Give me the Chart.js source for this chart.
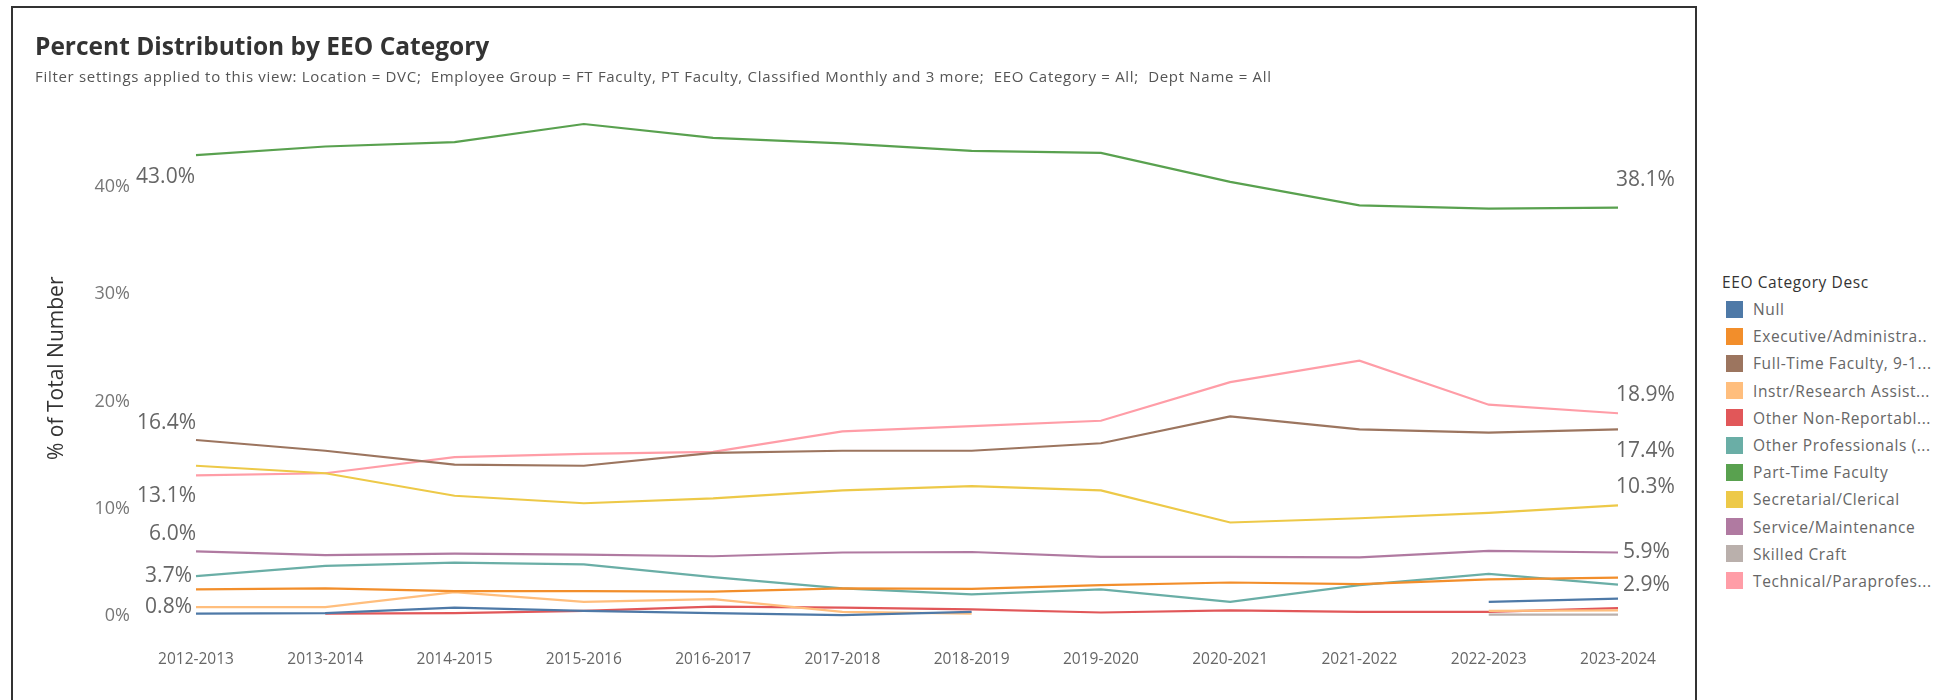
<!DOCTYPE html>
<html>
<head>
<meta charset="utf-8">
<script src="https://cdn.jsdelivr.net/npm/chart.js@4.4.1/dist/chart.umd.min.js"></script>
<style>
  html, body { margin: 0; background: #fff; font-family: "Open Sans", sans-serif; overflow: hidden; }
  #box { position: absolute; left: 11px; top: 6px; width: 1682px; height: 694px; border: 2px solid #333; border-bottom: none; }
  #chart { position: absolute; left: 0; top: 0; }
  #title { position: absolute; left: 22px; top: 23px; font-size: 24.5px; line-height: 30px; font-weight: bold; color: #333; white-space: nowrap; }
  #subtitle { position: absolute; left: 22px; top: 59px; font-size: 15px; letter-spacing: 0.7px; line-height: 18px; color: #555; white-space: nowrap; }
  #legend { position: absolute; left: 1722px; top: 270.5px; font-size: 15.5px; letter-spacing: 0.6px; color: #666; }
  #legend .head { color: #333; height: 22px; line-height: 22px; margin-bottom: 3px; }
  #legend .row { height: 27.2px; display: flex; align-items: center; white-space: nowrap; }
  #legend .sw { width: 17px; height: 17px; margin: 0 10px 0 4px; }
</style>
</head>
<body>
<div id="box">
  <canvas id="chart" width="1682" height="692"></canvas>
  <div id="title">Percent Distribution by EEO Category</div>
  <div id="subtitle">Filter settings applied to this view: Location = DVC;&nbsp; Employee Group = FT Faculty, PT Faculty, Classified Monthly and 3 more;&nbsp; EEO Category = All;&nbsp; Dept Name = All</div>
</div>
<div id="legend"></div>

<script>
// années (axe x)
const years = ['2012-2013', '2013-2014', '2014-2015', '2015-2016', '2016-2017', '2017-2018',
               '2018-2019', '2019-2020', '2020-2021', '2021-2022', '2022-2023', '2023-2024'];
const yTicks = [0, 10, 20, 30, 40];

// % of total number par catégorie EEO
const nullPct      = [0.2, 0.25, 0.75, 0.45, 0.25, 0.05, 0.35, null, null, null, 1.3, 1.6];
const executive    = [2.45, 2.55, 2.3, 2.3, 2.25, 2.55, 2.5, 2.85, 3.1, 2.95, 3.4, 3.55];
const fullTime     = [16.4, 15.4, 14.1, 14.0, 15.2, 15.4, 15.4, 16.1, 18.6, 17.4, 17.1, 17.4];
const instr        = [0.8, 0.8, 2.2, 1.3, 1.55, 0.35, 0.2, null, null, null, 0.45, 0.5];
const otherNonRep  = [null, 0.2, 0.25, 0.45, 0.85, 0.75, 0.6, 0.3, 0.5, 0.35, 0.35, 0.7];
const otherProf    = [3.7, 4.65, 4.95, 4.8, 3.6, 2.55, 2.0, 2.45, 1.3, 2.85, 3.9, 2.9];
const partTime     = [43.0, 43.8, 44.2, 45.9, 44.6, 44.1, 43.4, 43.2, 40.5, 38.3, 38.0, 38.1];
const secretarial  = [14.0, 13.3, 11.2, 10.5, 10.95, 11.7, 12.1, 11.7, 8.7, 9.1, 9.6, 10.3];
const service      = [6.0, 5.65, 5.8, 5.7, 5.55, 5.9, 5.95, 5.5, 5.5, 5.45, 6.05, 5.9];
const skilled      = [null, null, null, null, null, null, null, null, null, null, 0.1, 0.1];
const technical    = [13.1, 13.3, 14.8, 15.1, 15.3, 17.2, 17.7, 18.2, 21.8, 23.8, 19.7, 18.9];

const legendNames = ['Null', 'Executive/Administra..', 'Full-Time Faculty, 9-1...', 'Instr/Research Assist...',
                     'Other Non-Reportabl...', 'Other Professionals (...', 'Part-Time Faculty',
                     'Secretarial/Clerical', 'Service/Maintenance', 'Skilled Craft', 'Technical/Paraprofes...'];
const seriesData = [nullPct, executive, fullTime, instr, otherNonRep, otherProf, partTime,
                    secretarial, service, skilled, technical];
const colors = ['#4e79a7', '#f28e2b', '#9c755f', '#ffbe7d', '#e15759', '#6aaea6', '#59a14f',
                '#edc948', '#b07aa1', '#bab0ac', '#ff9da7'];

// étiquettes de début / fin de ligne (décalages en px)
const labelPos = {
  2:  { start: { dx: 0, dy: -17 }, end: { dx: -2, dy: 22 } },
  3:  { start: { dx: -4, dy: 0 } },
  5:  { start: { dx: -4, dy: 0 }, end: { dx: 5, dy: 0 } },
  6:  { start: { dx: -1, dy: 22 }, end: { dx: -2, dy: -28 } },
  7:  { end: { dx: -2, dy: -18 } },
  8:  { start: { dx: 0, dy: -17 }, end: { dx: 5, dy: 0 } },
  10: { start: { dx: 0, dy: 21 }, end: { dx: -2, dy: -18 } }
};

const endLabels = {
  id: 'endLabels',
  afterDatasetsDraw(chart) {
    const ctx = chart.ctx;
    ctx.save();
    ctx.font = '21px "Open Sans"';
    ctx.fillStyle = '#666';
    ctx.textBaseline = 'middle';
    Object.keys(labelPos).forEach(k => {
      const i = +k;
      const pts = chart.getDatasetMeta(i).data;
      const data = seriesData[i];
      const cfg = labelPos[k];
      if (cfg.start) {
        ctx.textAlign = 'right';
        ctx.fillText(data[0].toFixed(1) + '%', pts[0].x + cfg.start.dx, pts[0].y + cfg.start.dy);
      }
      if (cfg.end) {
        const n = data.length - 1;
        ctx.textAlign = 'left';
        ctx.fillText(data[n].toFixed(1) + '%', pts[n].x + cfg.end.dx, pts[n].y + cfg.end.dy);
      }
    });
    ctx.restore();
  }
};

const datasets = seriesData.map((d, i) => ({
  label: legendNames[i],
  data: d,
  borderColor: colors[i],
  backgroundColor: colors[i],
  borderWidth: 2.2,
  pointRadius: 0,
  tension: 0,
  spanGaps: false
}));

const chart = new Chart(document.getElementById('chart'), {
  type: 'line',
  data: { labels: years, datasets },
  options: {
    responsive: false,
    animation: false,
    layout: { padding: { top: 93.5, left: 22, right: 77, bottom: 15 } },
    plugins: { legend: { display: false }, tooltip: { enabled: false } },
    scales: {
      x: {
        offset: false,
        grid: { display: false, drawTicks: false },
        border: { display: false },
        ticks: { font: { family: 'Open Sans', size: 15.5 }, color: '#666', padding: 15, maxRotation: 0 },
        afterFit: s => { s.height = 50; }
      },
      y: {
        min: -1.8,
        max: 48,
        grid: { display: false, drawTicks: false },
        border: { display: false },
        afterBuildTicks: s => { s.ticks = yTicks.map(v => ({ value: v })); },
        ticks: { font: { family: 'Open Sans', size: 18 }, color: '#777', padding: 66, callback: v => v + '%' },
        title: { display: true, text: '% of Total Number', font: { family: 'Open Sans', size: 21 }, color: '#333', padding: { top: 9, bottom: 0 } },
        // la marge des ticks ne doit pas réserver de place en haut/bas
        afterFit: s => { s.width = 161; s.paddingTop = 0; s.paddingBottom = 0; }
      }
    }
  },
  plugins: [endLabels]
});

// légende HTML
const leg = document.getElementById('legend');
leg.innerHTML = '<div class="head">EEO Category Desc</div>' +
  legendNames.map((n, i) => `<div class="row"><div class="sw" style="background:${colors[i]}"></div>${n}</div>`).join('');
</script>
</body>
</html>
